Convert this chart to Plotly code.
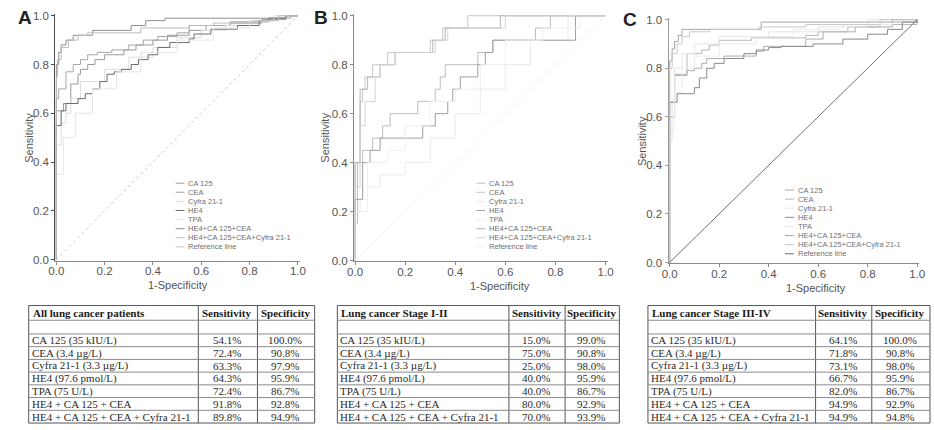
import plotly.graph_objects as go

W, H = 934, 430

# ---------------- data ----------------
SERIES = ["CA 125", "CEA", "Cyfra 21-1", "HE4", "TPA",
          "HE4+CA 125+CEA", "HE4+CA 125+CEA+Cyfra 21-1"]
REF_NAME = "Reference line"
TICKS = [0.0, 0.2, 0.4, 0.6, 0.8, 1.0]
TICK_TEXT = ["0.0", "0.2", "0.4", "0.6", "0.8", "1.0"]

# Panel A: all lung cancer patients (1-specificity, sensitivity)
A_CA125_X = [0, 0.03, 0.06, 0.09, 0.10, 0.13, 0.16, 0.20, 0.28, 0.33, 0.40, 0.46, 0.55, 0.62, 0.72, 0.85, 0.95, 1.0]
A_CA125_Y = [0, 0.61, 0.64, 0.72, 0.76, 0.78, 0.80, 0.82, 0.84, 0.86, 0.88, 0.90, 0.92, 0.94, 0.96, 0.97, 0.985, 1.0]
A_CEA_X = [0, 0.01, 0.04, 0.07, 0.10, 0.13, 0.17, 0.23, 0.30, 0.36, 0.42, 0.50, 0.55, 0.72, 0.88, 0.97, 1.0]
A_CEA_Y = [0, 0.66, 0.70, 0.77, 0.80, 0.82, 0.84, 0.85, 0.86, 0.88, 0.90, 0.915, 0.93, 0.96, 0.975, 0.99, 1.0]
A_CYFRA_X = [0, 0.02, 0.04, 0.06, 0.10, 0.20, 0.30, 0.40, 0.50, 0.60, 0.70, 0.80, 0.90, 1.0]
A_CYFRA_Y = [0, 0.47, 0.56, 0.60, 0.66, 0.73, 0.78, 0.83, 0.87, 0.91, 0.94, 0.96, 0.98, 1.0]
A_HE4_X = [0, 0.02, 0.04, 0.09, 0.12, 0.15, 0.18, 0.21, 0.24, 0.27, 0.31, 0.34, 0.38, 0.42, 0.47, 0.55, 0.57, 0.64, 0.75, 0.84, 0.88, 0.95, 1.0]
A_HE4_Y = [0, 0.55, 0.61, 0.64, 0.66, 0.68, 0.70, 0.73, 0.76, 0.77, 0.78, 0.80, 0.82, 0.84, 0.87, 0.89, 0.905, 0.925, 0.945, 0.96, 0.98, 0.99, 1.0]
A_TPA_X = [0, 0.03, 0.08, 0.15, 0.25, 0.35, 0.50, 0.65, 0.80, 0.90, 1.0]
A_TPA_Y = [0, 0.35, 0.50, 0.60, 0.70, 0.77, 0.85, 0.90, 0.95, 0.98, 1.0]
A_COMB3_X = [0, 0.01, 0.02, 0.04, 0.07, 0.15, 0.31, 0.37, 0.45, 0.95, 1.0]
A_COMB3_Y = [0, 0.80, 0.85, 0.88, 0.90, 0.92, 0.94, 0.96, 0.98, 0.99, 1.0]
A_COMB4_X = [0, 0.005, 0.02, 0.05, 0.09, 0.13, 0.35, 0.55, 0.65, 0.82, 0.92, 1.0]
A_COMB4_Y = [0, 0.75, 0.82, 0.87, 0.90, 0.92, 0.93, 0.95, 0.96, 0.97, 0.98, 1.0]

# Panel B: lung cancer stage I-II
B_CA125_X = [0, 0.01, 0.03, 0.07, 0.11, 0.14, 0.25, 0.32, 0.34, 0.36, 0.49, 0.55, 0.72, 0.78, 1.0]
B_CA125_Y = [0, 0.15, 0.40, 0.45, 0.50, 0.55, 0.60, 0.65, 0.70, 0.75, 0.80, 0.85, 0.90, 0.95, 1.0]
B_CEA_X = [0, 0.02, 0.03, 0.04, 0.07, 0.13, 0.30, 0.35, 0.45, 1.0]
B_CEA_Y = [0, 0.40, 0.65, 0.70, 0.75, 0.80, 0.85, 0.90, 0.95, 1.0]
B_CYFRA_X = [0, 0.02, 0.05, 0.10, 0.20, 0.30, 0.40, 0.50, 0.60, 0.70, 0.85, 1.0]
B_CYFRA_Y = [0, 0.20, 0.25, 0.30, 0.35, 0.40, 0.50, 0.60, 0.70, 0.80, 0.90, 1.0]
B_HE4_X = [0, 0.03, 0.06, 0.10, 0.27, 0.32, 0.37, 0.39, 0.42, 0.49, 0.52, 0.55, 0.88, 1.0]
B_HE4_Y = [0, 0.25, 0.40, 0.45, 0.50, 0.55, 0.60, 0.65, 0.70, 0.75, 0.80, 0.85, 0.90, 1.0]
B_TPA_X = [0, 0.05, 0.13, 0.20, 0.30, 0.40, 0.50, 0.60, 0.75, 0.90, 1.0]
B_TPA_Y = [0, 0.20, 0.40, 0.45, 0.55, 0.65, 0.70, 0.80, 0.90, 0.95, 1.0]
B_COMB3_X = [0, 0.02, 0.05, 0.10, 0.16, 0.31, 0.36, 0.58, 1.0]
B_COMB3_Y = [0, 0.40, 0.70, 0.75, 0.80, 0.85, 0.90, 0.95, 1.0]
B_COMB4_X = [0, 0.02, 0.04, 0.08, 0.10, 0.16, 0.32, 0.37, 0.60, 1.0]
B_COMB4_Y = [0, 0.30, 0.55, 0.65, 0.75, 0.80, 0.85, 0.90, 0.95, 1.0]

# Panel C: lung cancer stage III-IV
C_CA125_X = [0, 0.02, 0.07, 0.10, 0.13, 0.15, 0.22, 0.35, 0.38, 0.55, 0.62, 0.75, 0.90, 1.0, 1.0]
C_CA125_Y = [0, 0.66, 0.77, 0.79, 0.80, 0.82, 0.84, 0.85, 0.87, 0.89, 0.92, 0.95, 0.97, 0.99, 1.0]
C_CEA_X = [0, 0.02, 0.07, 0.13, 0.16, 0.20, 0.33, 0.55, 0.60, 0.72, 0.85, 1.0, 1.0]
C_CEA_Y = [0, 0.60, 0.775, 0.86, 0.875, 0.895, 0.915, 0.925, 0.935, 0.95, 0.97, 0.98, 1.0]
C_CYFRA_X = [0, 0.01, 0.02, 0.05, 0.10, 0.20, 0.40, 0.60, 0.80, 1.0]
C_CYFRA_Y = [0, 0.50, 0.67, 0.80, 0.86, 0.90, 0.93, 0.95, 0.97, 1.0]
C_HE4_X = [0, 0.03, 0.10, 0.12, 0.15, 0.18, 0.22, 0.30, 0.35, 0.40, 0.45, 0.58, 0.70, 0.80, 0.88, 0.94, 1.0, 1.0]
C_HE4_Y = [0, 0.66, 0.695, 0.72, 0.76, 0.80, 0.82, 0.84, 0.86, 0.875, 0.885, 0.89, 0.90, 0.92, 0.94, 0.96, 0.99, 1.0]
C_TPA_X = [0, 0.02, 0.05, 0.10, 0.20, 0.35, 0.50, 0.70, 0.90, 1.0]
C_TPA_Y = [0, 0.55, 0.70, 0.80, 0.85, 0.90, 0.93, 0.96, 0.98, 1.0]
C_COMB3_X = [0, 0.01, 0.02, 0.035, 0.05, 0.37, 0.90, 1.0]
C_COMB3_Y = [0, 0.83, 0.88, 0.91, 0.935, 0.96, 0.99, 1.0]
C_COMB4_X = [0, 0.01, 0.03, 0.05, 0.08, 0.16, 0.36, 0.55, 0.85, 1.0]
C_COMB4_Y = [0, 0.80, 0.86, 0.90, 0.93, 0.95, 0.96, 0.97, 0.98, 1.0]

REF_X = [0, 1]
REF_Y = [0, 1]

# Tables
TABLE_ROWS = ["CA 125 (35 kIU/L)", "CEA (3.4 µg/L)", "Cyfra 21-1 (3.3 µg/L)",
              "HE4 (97.6 pmol/L)", "TPA (75 U/L)", "HE4 + CA 125 + CEA",
              "HE4 + CA 125 + CEA + Cyfra 21-1"]
TABLE_TITLES = ["All lung cancer patients", "Lung cancer Stage I-II", "Lung cancer Stage III-IV"]
TABLE_COLS = ["Sensitivity", "Specificity"]
A_SENS = [54.1, 72.4, 63.3, 64.3, 72.4, 91.8, 89.8]
A_SPEC = [100.0, 90.8, 97.9, 95.9, 86.7, 92.8, 94.9]
B_SENS = [15.0, 75.0, 25.0, 40.0, 40.0, 80.0, 70.0]
B_SPEC = [99.0, 90.8, 98.0, 95.9, 86.7, 92.9, 93.9]
C_SENS = [64.1, 71.8, 73.1, 66.7, 82.0, 94.9, 94.9]
C_SPEC = [100.0, 90.8, 98.0, 95.9, 86.7, 92.9, 94.8]

# ---------------- styling ----------------
COLORS = ["#9a9a9a", "#a6a6a6", "#dedede", "#6c6c6c", "#e6e6e6", "#8e8e8e", "#bcbcbc"]
PANEL_FADE = {"A": 0.0, "B": 0.35, "C": 0.2}
REF_STYLE = {"A": dict(color="#c8c8c8", width=1, dash="dot"),
             "B": dict(color="#f2f2f2", width=1),
             "C": dict(color="#707070", width=1)}
YAXIS_COLOR = {"A": "#4a4a4a", "B": "#8a8a8a", "C": "#9a9a9a"}

PANELS = {
    "A": [(A_CA125_X, A_CA125_Y), (A_CEA_X, A_CEA_Y), (A_CYFRA_X, A_CYFRA_Y), (A_HE4_X, A_HE4_Y),
          (A_TPA_X, A_TPA_Y), (A_COMB3_X, A_COMB3_Y), (A_COMB4_X, A_COMB4_Y)],
    "B": [(B_CA125_X, B_CA125_Y), (B_CEA_X, B_CEA_Y), (B_CYFRA_X, B_CYFRA_Y), (B_HE4_X, B_HE4_Y),
          (B_TPA_X, B_TPA_Y), (B_COMB3_X, B_COMB3_Y), (B_COMB4_X, B_COMB4_Y)],
    "C": [(C_CA125_X, C_CA125_Y), (C_CEA_X, C_CEA_Y), (C_CYFRA_X, C_CYFRA_Y), (C_HE4_X, C_HE4_Y),
          (C_TPA_X, C_TPA_Y), (C_COMB3_X, C_COMB3_Y), (C_COMB4_X, C_COMB4_Y)],
}

# pixel geometry: (x of 0, x of 1, y of 1, y of 0)
GEOM = {"A": (50, 295, 12, 261), "B": (353, 607, 12, 262), "C": (672, 923, 16, 264)}
RX = [-0.004, 1.008]
RY = [-0.004, 1.008]
AX_IDS = {"A": ("x", "y", "xaxis", "yaxis"), "B": ("x2", "y2", "xaxis2", "yaxis2"),
          "C": ("x3", "y3", "xaxis3", "yaxis3")}
LETTER_POS = {"A": (18, 14), "B": (318, 14), "C": (632, 16)}
YTITLE_POS = {"A": (22, 137), "B": (323, 137), "C": (644, 140)}
XTITLE_POS = {"A": (173, 287), "B": (500, 288), "C": (820, 290)}
LEGEND_POS = {"A": (182, 183, 9.3), "B": (487, 183, 9.3), "C": (800, 190, 9.3)}
# table column borders (px) and row borders (px)
TABLE_XB = {"A": [22, 194, 254, 312], "B": [335, 509, 566, 621], "C": [650, 820, 877, 936]}
TABLE_YB = [308, 323, 337, 350, 363, 376, 389, 402, 415, 428]
TABLE_DATA = {"A": (A_SENS, A_SPEC), "B": (B_SENS, B_SPEC), "C": (C_SENS, C_SPEC)}

SANS = "Liberation Sans, Arial, sans-serif"
SERIF = "Liberation Serif, Times New Roman, serif"


def px(x):
    return x / W


def py(y):
    return 1 - y / H


def fade(hexcol, f):
    r, g, b = (int(hexcol[i:i + 2], 16) for i in (1, 3, 5))
    r, g, b = (round(c + (255 - c) * f) for c in (r, g, b))
    return "#%02x%02x%02x" % (r, g, b)


fig = go.Figure()
annotations = []
shapes = []
layout_axes = {}

for idx, p in enumerate(["A", "B", "C"]):
    xr, yr, xk, yk = AX_IDS[p]
    x0p, x1p, y1p, y0p = GEOM[p]
    ux = x1p - x0p
    uy = y0p - y1p
    dom_x = [px(x0p + RX[0] * ux), px(x0p + RX[1] * ux)]
    dom_y = [py(y0p - RY[0] * uy), py(y0p - RY[1] * uy)]
    cols = [fade(c, PANEL_FADE[p]) for c in COLORS]

    for (xs, ys), name, col in zip(PANELS[p], SERIES, cols):
        fig.add_trace(go.Scatter(x=xs, y=ys, mode="lines", line=dict(color=col, width=1, shape="vh"),
                                 name=name, showlegend=False, xaxis=xr, yaxis=yr, hoverinfo="skip"))
    fig.add_trace(go.Scatter(x=REF_X, y=REF_Y, mode="lines", line=REF_STYLE[p], name=REF_NAME,
                             showlegend=False, xaxis=xr, yaxis=yr, hoverinfo="skip"))

    common = dict(showgrid=False, zeroline=False, showline=True, ticks="outside", ticklen=3,
                  tickwidth=1, tickvals=TICKS, ticktext=TICK_TEXT,
                  tickfont=dict(family=SANS, size=11.5, color="#555555"))
    layout_axes[xk] = dict(common, domain=dom_x, range=RX, anchor=yr, linecolor="#8a8a8a",
                           tickcolor="#8a8a8a", linewidth=1, ticklabelstandoff=-3)
    layout_axes[yk] = dict(common, domain=dom_y, range=RY, anchor=xr, linecolor=YAXIS_COLOR[p],
                           tickcolor=YAXIS_COLOR[p], linewidth=1.3)

    lx, ly = LETTER_POS[p]
    annotations.append(dict(x=px(lx), y=py(ly), xref="paper", yref="paper", text="<b>%s</b>" % p,
                            showarrow=False, xanchor="center", yanchor="middle",
                            font=dict(family=SANS, size=19, color="#222222")))
    tx, ty = YTITLE_POS[p]
    annotations.append(dict(x=px(tx), y=py(ty), xref="paper", yref="paper", text="Sensitivity",
                            textangle=-90, showarrow=False, xanchor="center", yanchor="middle",
                            font=dict(family=SANS, size=11, color="#555555")))
    tx, ty = XTITLE_POS[p]
    annotations.append(dict(x=px(tx), y=py(ty), xref="paper", yref="paper", text="1-Specificity",
                            showarrow=False, xanchor="center", yanchor="middle",
                            font=dict(family=SANS, size=11, color="#555555")))

    # legend drawn as text rows
    lgx, lgy, dy = LEGEND_POS[p]
    leg_cols = cols + [REF_STYLE[p]["color"]]
    for i, name in enumerate(SERIES + [REF_NAME]):
        yy = lgy + i * dy
        annotations.append(dict(x=px(lgx), y=py(yy), xref="paper", yref="paper", text=name,
                                showarrow=False, xanchor="left", yanchor="middle",
                                font=dict(family=SANS, size=7.5, color="#707070")))
        shapes.append(dict(type="line", xref="paper", yref="paper", x0=px(lgx - 11), x1=px(lgx - 2),
                           y0=py(yy), y1=py(yy), line=dict(color=leg_cols[i], width=1)))

    # table drawn as a grid with text
    xb = TABLE_XB[p]
    yb = TABLE_YB
    for xv in xb:
        shapes.append(dict(type="line", xref="paper", yref="paper", x0=px(xv), x1=px(xv),
                           y0=py(yb[0]), y1=py(yb[-1]), line=dict(color="#555555", width=1)))
    for j, yv in enumerate(yb):
        shapes.append(dict(type="line", xref="paper", yref="paper", x0=px(xb[0]), x1=px(xb[-1]),
                           y0=py(yv), y1=py(yv),
                           line=dict(color="#555555" if j in (0, len(yb) - 1) else "#8a8a8a", width=1)))
    hy = (yb[0] + yb[1]) / 2
    annotations.append(dict(x=px(xb[0] + 2), y=py(hy), xref="paper", yref="paper",
                            text="<b>%s</b>" % TABLE_TITLES[idx], showarrow=False, xanchor="left",
                            yanchor="middle", font=dict(family=SERIF, size=11, color="#1a1a1a")))
    for c, head in enumerate(TABLE_COLS):
        annotations.append(dict(x=px((xb[c + 1] + xb[c + 2]) / 2 - 1), y=py(hy), xref="paper", yref="paper",
                                text="<b>%s</b>" % head, showarrow=False, xanchor="center",
                                yanchor="middle", font=dict(family=SERIF, size=11, color="#1a1a1a")))
    sens, spec = TABLE_DATA[p]
    for r, label in enumerate(TABLE_ROWS):
        ry = (yb[r + 2] + yb[r + 3]) / 2
        annotations.append(dict(x=px(xb[0] + 1), y=py(ry), xref="paper", yref="paper", text=label,
                                showarrow=False, xanchor="left", yanchor="middle",
                                font=dict(family=SERIF, size=11, color="#2a2a2a")))
        for c, vals in enumerate((sens, spec)):
            annotations.append(dict(x=px((xb[c + 1] + xb[c + 2]) / 2 - 1),
                                    y=py(ry), xref="paper", yref="paper", text="%.1f%%" % vals[r],
                                    showarrow=False, xanchor="center", yanchor="middle",
                                    font=dict(family=SERIF, size=11, color="#2a2a2a")))

fig.update_layout(width=W, height=H, margin=dict(l=0, r=0, t=0, b=0),
                  paper_bgcolor="white", plot_bgcolor="white", showlegend=False,
                  annotations=annotations, shapes=shapes, **layout_axes)

fig.write_html("out.html", config={"displayModeBar": False},
               post_script="document.body.style.margin='0';")
